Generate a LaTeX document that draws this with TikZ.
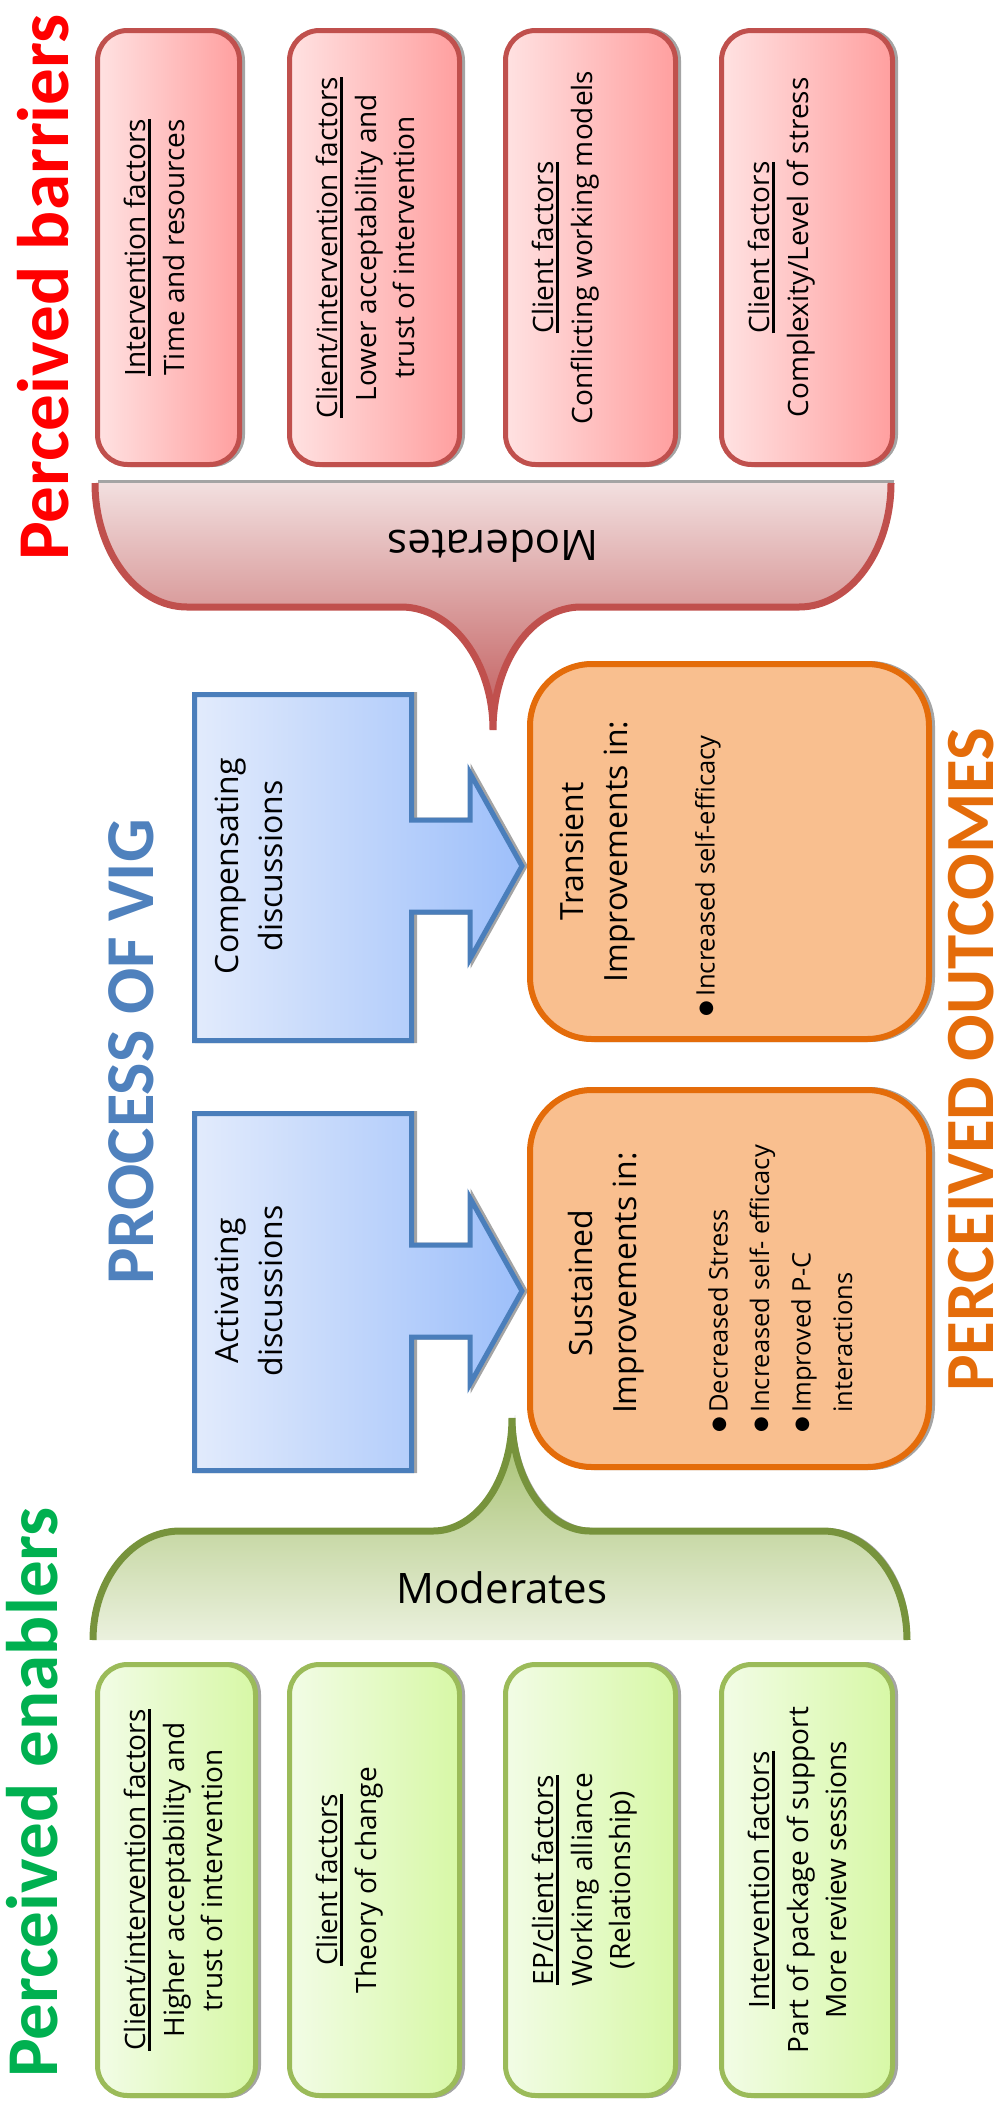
\documentclass[tikz,border=0pt]{standalone}
\usepackage{fontspec}
\setmainfont{Open Sans}
\newfontfamily\headfont{Carlito}
\newfontfamily\symfont{DejaVu Sans}
\usetikzlibrary{shadows}

\definecolor{barLine}{HTML}{C0504D}
\definecolor{barLight}{HTML}{FFE2E2}
\definecolor{barDark}{HTML}{FF9F9F}
\definecolor{enLine}{HTML}{9BBB59}
\definecolor{enLight}{HTML}{F2FCE6}
\definecolor{enDark}{HTML}{D7F8A6}
\definecolor{procLine}{HTML}{4A7EBB}
\definecolor{procLight}{HTML}{E2EBFC}
\definecolor{procDark}{HTML}{9DBFFA}
\definecolor{outLine}{HTML}{E46C0A}
\definecolor{outFill}{HTML}{F9BF8F}
\definecolor{modBarTop}{HTML}{F2DFDF}
\definecolor{modBarTip}{HTML}{C05858}
\definecolor{modEnLine}{HTML}{77933C}
\definecolor{modEnTip}{HTML}{A2BE6A}
\definecolor{modEnBase}{HTML}{EBF1DE}
\definecolor{shadowGray}{HTML}{A4A4A4}
\definecolor{titleRed}{HTML}{FF0000}
\definecolor{titleGreen}{HTML}{00B050}
\definecolor{titleBlue}{HTML}{4F81BD}
\definecolor{titleOrange}{HTML}{E46C0A}

% underlined factor heading with a heavier rule
\newcommand\factorline[1]{\setbox0=\hbox{#1}\hbox{\rlap{\vrule width\wd0 height -2pt depth 5pt}\box0}}
% list bullet
\newcommand\bulletmark{\makebox[20pt][l]{\raisebox{3pt}{\symfont\fontsize{18}{18}\selectfont ●}}}

% block arrow: #1 top, #2 bottom, #3 axis of the head
\newcommand\procarrow[4]{%
  \path[#4] (194.5,#1) -- (411.5,#1) -- (411.5,#3-46) -- (470,#3-46) -- (470,#3-93)
    -- (522,#3) -- (470,#3+93) -- (470,#3+46) -- (411.5,#3+46) -- (411.5,#2)
    -- (194.5,#2) -- cycle;}

% brace under the barriers, tip pointing down
\newcommand\barbrace[2]{%
  \path[#1] (95,483) .. controls (95,551) and (136,607) .. (187,607) -- (401,607)
    .. controls (452,607) and (493,662) .. (493,730)
    .. controls (493,662) and (532,607) .. (581,607) -- (799,607)
    .. controls (850,607) and (891,551) .. (891,483) #2;}

% brace above the enablers, tip pointing up
\newcommand\enbrace[2]{%
  \path[#1] (93,1640) .. controls (93,1579) and (132,1531) .. (180,1531) -- (433,1531)
    .. controls (477,1531) and (512,1480) .. (512,1418)
    .. controls (512,1480) and (547,1531) .. (590,1531) -- (823,1531)
    .. controls (869,1531) and (907,1579) .. (907,1640) #2;}

\begin{document}
\begin{tikzpicture}[x=1pt, y=-1pt,
  factorbox/.style={rectangle, rounded corners=30pt, line width=5pt, inner sep=0pt,
    general shadow={shadow xshift=3pt, fill=shadowGray, draw=shadowGray, line width=5pt}},
  barbox/.style={factorbox, draw=barLine, left color=barLight, right color=barDark},
  enbox/.style={factorbox, draw=enLine, left color=enLight, right color=enDark},
  outbox/.style={rectangle, rounded corners=62pt, line width=6pt, inner sep=0pt,
    draw=outLine, fill=outFill,
    general shadow={shadow xshift=3pt, fill=shadowGray, draw=shadowGray, line width=6pt}},
  factortext/.style={rotate=90, anchor=north, align=center, inner sep=0pt,
    font=\fontsize{28}{38.5}\selectfont},
  headtext/.style={rotate=90, anchor=north, align=center, inner sep=0pt,
    font=\fontsize{32}{44}\selectfont},
  listtext/.style={rotate=90, anchor=north west, align=left, inner sep=0pt,
    font=\fontsize{25.5}{41.5}\selectfont},
  titletext/.style={rotate=90, anchor=base west, inner sep=0pt,
    font=\headfont\bfseries\fontsize{73}{80}\selectfont},
  modtext/.style={inner sep=0pt, font=\fontsize{42}{50}\selectfont},
  procshape/.style={draw=procLine, line width=5pt, left color=procLight, right color=procDark},
]
\useasboundingbox (0,0) rectangle (998,2107);

% ---------- titles ----------
\node[titletext, text=titleRed] (tbar) at (68,561) {Perceived barriers};
\node[titletext, text=titleGreen] (ten) at (57,2078) {Perceived enablers};
\node[titletext, text=titleBlue, font=\headfont\bfseries\fontsize{68.5}{80}\selectfont]
  (tproc) at (153,1285) {PROCESS OF VIG};
\node[titletext, text=titleOrange, font=\headfont\bfseries\fontsize{69}{80}\selectfont]
  (tout) at (993,1392) {PERCEIVED OUTCOMES};

% ---------- barriers ----------
\node[barbox, minimum width=142pt, minimum height=434pt] (b1) at (168.5,247.5) {};
\node[barbox, minimum width=170pt, minimum height=434pt] (b2) at (374.5,247.5) {};
\node[barbox, minimum width=170pt, minimum height=434pt] (b3) at (590.5,247.5) {};
\node[barbox, minimum width=171pt, minimum height=434pt] (b4) at (807,247.5) {};

\node[factortext] (b1t) at ([xshift=29pt]b1.west) {\factorline{Intervention factors}\\Time and resources};
\node[factortext] (b2t) at ([xshift=29pt]b2.west) {\factorline{Client/intervention factors}\\Lower acceptability and\\trust of intervention};
\node[factortext] (b3t) at ([xshift=29pt]b3.west) {\factorline{Client factors}\\Conflicting working models};
\node[factortext] (b4t) at ([xshift=29pt]b4.west) {\factorline{Client factors}\\Complexity/Level of stress};

% ---------- enablers ----------
\node[enbox, minimum width=158pt, minimum height=431pt] (e1) at (176.5,1880) {};
\node[enbox, minimum width=170pt, minimum height=431pt] (e2) at (374.5,1880) {};
\node[enbox, minimum width=170pt, minimum height=431pt] (e3) at (590.5,1880) {};
\node[enbox, minimum width=171pt, minimum height=431pt] (e4) at (807,1880) {};

\node[factortext] (e1t) at ([xshift=29pt]e1.west) {\factorline{Client/intervention factors}\\Higher acceptability and\\trust of intervention};
\node[factortext] (e2t) at ([xshift=29pt]e2.west) {\factorline{Client factors}\\Theory of change};
\node[factortext] (e3t) at ([xshift=29pt]e3.west) {\factorline{EP/client factors}\\Working alliance\\(Relationship)};
\node[factortext] (e4t) at ([xshift=29pt]e4.west) {\factorline{Intervention factors}\\Part of package of support\\More review sessions};

% ---------- moderating braces ----------
\barbrace{fill=shadowGray, shift={(3,-3)}}{-- cycle}
\barbrace{top color=modBarTop, bottom color=modBarTip}{-- cycle}
\barbrace{draw=barLine, line width=7pt}{}
\node[modtext, rotate=180] (mbar) at (493,546) {Moderates};

\enbrace{fill=shadowGray, shift={(3,-3)}}{-- cycle}
\enbrace{top color=modEnTip, bottom color=modEnBase}{-- cycle}
\enbrace{draw=modEnLine, line width=7pt}{}
\node[modtext] (men) at (502,1588) {Moderates};

% ---------- process arrows ----------
\procarrow{694.5}{1040.5}{866}{fill=shadowGray, draw=shadowGray, line width=5pt, shift={(3,0)}}
\procarrow{694.5}{1040.5}{866}{procshape}
\procarrow{1113.5}{1470.5}{1291}{fill=shadowGray, draw=shadowGray, line width=5pt, shift={(3,0)}}
\procarrow{1113.5}{1470.5}{1291}{procshape}
\node[headtext] (pc) at (215,866) {Compensating\\discussions};
\node[headtext] (pa) at (215,1291) {Activating\\discussions};

% ---------- outcomes ----------
\node[outbox, minimum width=399pt, minimum height=375pt] (otr) at (729.5,851.5) {};
\node[outbox, minimum width=399pt, minimum height=377pt] (osu) at (729.5,1278.5) {};

\node[headtext] (otrh) at (560,851.5) {Transient\\Improvements in:};
\node[listtext] (otrl) at (695,1017) {\bulletmark Increased self-efficacy};
\node[headtext] (osuh) at (568,1283) {Sustained\\Improvements in:};
\node[listtext] (osul) at (708,1433) {\bulletmark Decreased Stress\\\bulletmark Increased self- efficacy\\\bulletmark Improved P-C\\\hphantom{\bulletmark}interactions};
\end{tikzpicture}
\end{document}
